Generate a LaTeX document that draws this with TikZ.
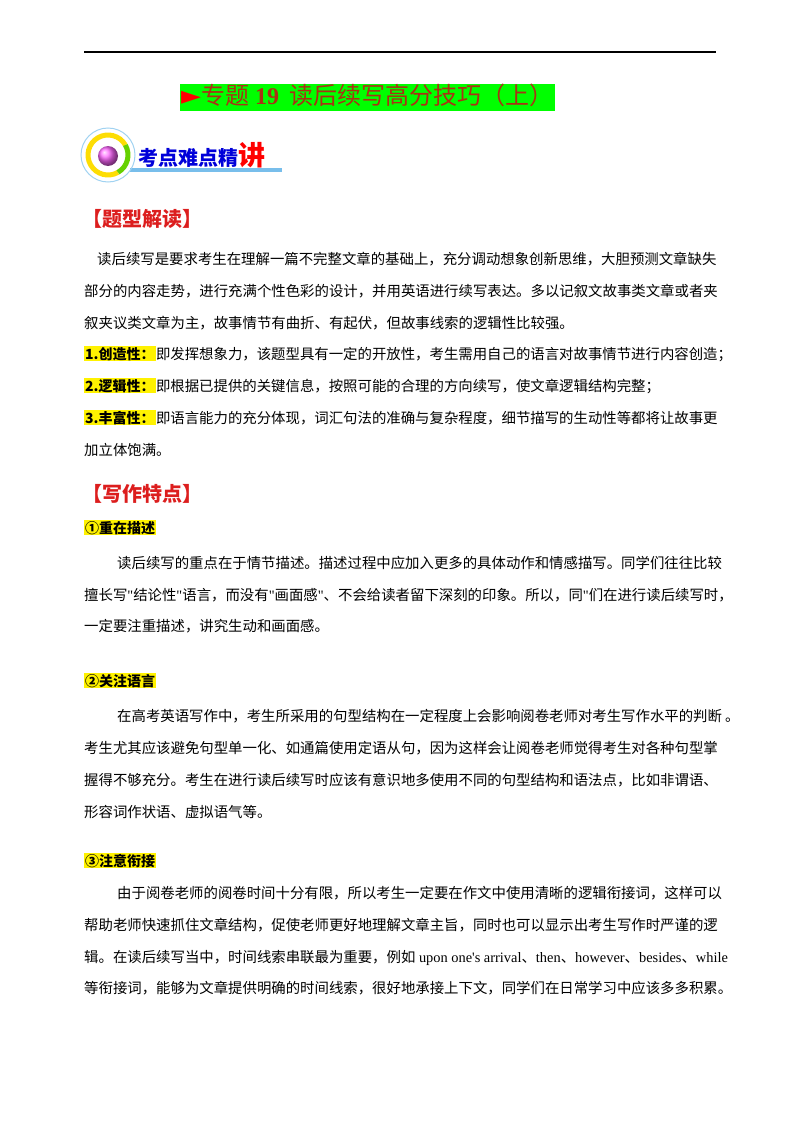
\documentclass[tikz,border=0pt]{standalone}
\usepackage{fontspec}
\setmainfont{Noto Sans CJK SC}
\newfontfamily\lat{Liberation Serif}
\newfontfamily\djv{DejaVu Sans}
\newcommand{\qq}{{\lat"}}
\definecolor{ttl}{RGB}{170,50,20}
\definecolor{hred}{RGB}{220,30,30}
\definecolor{lblue}{RGB}{120,190,235}
\begin{document}
\begin{tikzpicture}[x=1pt,y=-1pt,
 body/.style={anchor=base west,inner sep=0,font=\fontsize{14.4}{18}\selectfont},
 hl/.style={anchor=base west,inner sep=1pt,fill=yellow,font=\fontsize{14}{16}\selectfont\bfseries},
 head/.style={anchor=base west,inner sep=0,text=hred,font=\fontsize{20}{24}\selectfont\bfseries}]
\useasboundingbox (0,0) rectangle (800,1132);
\draw[line width=1.6pt] (84,52) -- (716,52);
\fill[green] (180,84) rectangle (555,111);
\node[anchor=base west,inner sep=0,text=ttl,font=\fontsize{24}{26}\selectfont] (title) at (181,104) {\textcolor{red}{\djv\fontsize{26}{26}\selectfont ►}专题{\lat\bfseries\ 19}\ \ 读后续写高分技巧（上）};
% logo
\fill[lblue] (130,168) rectangle (282,172);
\draw[lblue!70,line width=1pt] (108,155) circle (27);
\draw[yellow!80!orange,line width=5pt] (108,155) ++(60:20) arc (60:330:20);
\draw[green!70!black!60!yellow,line width=5pt] (108,155) ++(-30:20) arc (-30:60:20);
\shade[ball color=magenta!60] (108,156) circle (10);
\node[anchor=base west,inner sep=0,text=blue!85!black,font=\fontsize{20}{22}\selectfont\bfseries] (kd) at (138,165) {考点难点精};
\node[anchor=base west,inner sep=0,text=red,font=\fontsize{27}{28}\selectfont\bfseries] (kj) at (kd.base east) {讲};
% section 1
\node[head] (h1) at (82,226) {【题型解读】};
\node[body] (l1) at (97,264) {读后续写是要求考生在理解一篇不完整文章的基础上，充分调动想象创新思维，大胆预测文章缺失};
\node[body] (l2) at (84,296) {部分的内容走势，进行充满个性色彩的设计，并用英语进行续写表达。多以记叙文故事类文章或者夹};
\node[body] (l3) at (84,328) {叙夹议类文章为主，故事情节有曲折、有起伏，但故事线索的逻辑性比较强。};
\node[hl] (c1) at (84,359) {1.创造性：};
\node[body] (l4) at (c1.base east) {即发挥想象力，该题型具有一定的开放性，考生需用自己的语言对故事情节进行内容创造；};
\node[hl] (c2) at (84,391) {2.逻辑性：};
\node[body] (l5) at (c2.base east) {即根据已提供的关键信息，按照可能的合理的方向续写，使文章逻辑结构完整；};
\node[hl] (c3) at (84,423) {3.丰富性：};
\node[body] (l6) at (c3.base east) {即语言能力的充分体现，词汇句法的准确与复杂程度，细节描写的生动性等都将让故事更};
\node[body] (l7) at (84,455) {加立体饱满。};
% section 2
\node[head] (h2) at (82,501) {【写作特点】};
\node[hl] (s1) at (84,533) {①重在描述};
\node[body] (a1) at (117,568) {读后续写的重点在于情节描述。描述过程中应加入更多的具体动作和情感描写。同学们往往比较};
\node[body] (a2) at (84,600) {擅长写\qq 结论性\qq 语言，而没有\qq 画面感\qq 、不会给读者留下深刻的印象。所以，同\qq 们在进行读后续写时，};
\node[body] (a3) at (84,631) {一定要注重描述，讲究生动和画面感。};
\node[hl] (s2) at (84,686) {②关注语言};
\node[body] (b1) at (117,721) {在高考英语写作中，考生所采用的句型结构在一定程度上会影响阅卷老师对考生写作水平的判断 。};
\node[body] (b2) at (84,753) {考生尤其应该避免句型单一化、如通篇使用定语从句，因为这样会让阅卷老师觉得考生对各种句型掌};
\node[body] (b3) at (84,785) {握得不够充分。考生在进行读后续写时应该有意识地多使用不同的句型结构和语法点，比如非谓语、};
\node[body] (b4) at (84,817) {形容词作状语、虚拟语气等。};
\node[hl] (s3) at (84,866) {③注意衔接};
\node[body] (d1) at (117,898) {由于阅卷老师的阅卷时间十分有限，所以考生一定要在作文中使用清晰的逻辑衔接词，这样可以};
\node[body] (d2) at (84,930) {帮助老师快速抓住文章结构，促使老师更好地理解文章主旨，同时也可以显示出考生写作时严谨的逻};
\node[body] (d3) at (84,962) {辑。在读后续写当中，时间线索串联最为重要，例如{\lat\ upon one's arrival}、{\lat then}、{\lat however}、{\lat besides}、{\lat while}};
\node[body] (d4) at (84,993) {等衔接词，能够为文章提供明确的时间线索，很好地承接上下文，同学们在日常学习中应该多多积累。};
\end{tikzpicture}
\end{document}
